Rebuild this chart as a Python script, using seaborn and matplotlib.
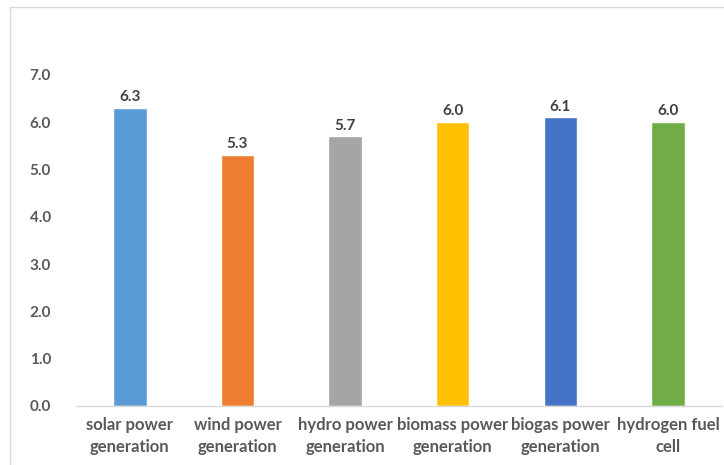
import numpy as np
import pandas as pd
import matplotlib
matplotlib.use("Agg")
import matplotlib.pyplot as plt
import seaborn as sns
from matplotlib.patches import Rectangle

categories = ["solar power\ngeneration", "wind power\ngeneration", "hydro power\ngeneration",
              "biomass power\ngeneration", "biogas power\ngeneration", "hydrogen fuel\ncell"]
values = [6.3, 5.3, 5.7, 6.0, 6.1, 6.0]
colors = ["#5B9BD5", "#ED7D31", "#A5A5A5", "#FFC000", "#4472C4", "#70AD47"]
yticks = [0.0, 1.0, 2.0, 3.0, 4.0, 5.0, 6.0, 7.0]

sns.set_style("white")
plt.rcParams['font.family'] = ['Lato', 'DejaVu Sans']

df = pd.DataFrame({"category": categories, "value": values})

fig = plt.figure(figsize=(7.24, 4.65), dpi=100)
ax = fig.add_axes([0.105, 0.127, 0.892, 0.712])

sns.barplot(data=df, x="category", y="value", hue="category", palette=colors,
            width=0.31, legend=False, ax=ax, saturation=1)

for i, v in enumerate(values):
    ax.text(i, v + 0.08, f"{v:.1f}", ha="center", va="bottom",
            fontsize=11, fontweight="bold", color="#404040")

ax.set_ylim(0, 7)
ax.set_xlim(-0.5, len(categories) - 0.5)
ax.set_yticks(yticks)
ax.set_yticklabels([f"{t:.1f}" for t in yticks])
ax.set_xlabel("")
ax.set_ylabel("")
ax.tick_params(axis="y", length=0, pad=18, labelsize=11, labelcolor="#595959")
ax.tick_params(axis="x", length=0, pad=8, labelsize=12, labelcolor="#595959")
for lab in ax.get_yticklabels():
    lab.set_fontweight("bold")
for lab in ax.get_xticklabels():
    lab.set_fontweight("bold")
    lab.set_linespacing(1.45)

for s in ["top", "right", "left"]:
    ax.spines[s].set_visible(False)
ax.spines["bottom"].set_color("#D9D9D9")
ax.spines["bottom"].set_linewidth(1.0)

# light outer chart border
fig.patches.append(Rectangle((10 / 724, -0.05), 1.2, 1 - 7 / 465 + 0.05,
                             transform=fig.transFigure, fill=False,
                             edgecolor="#D9D9D9", linewidth=1.0))

fig.savefig("out.png", dpi=100)
